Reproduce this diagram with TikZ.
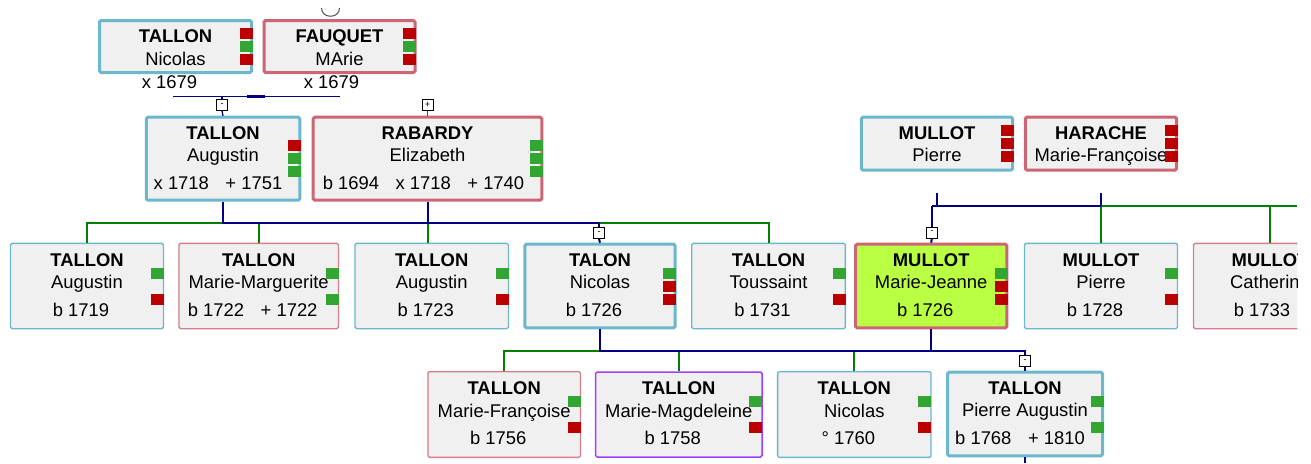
\documentclass[tikz,border=0pt]{standalone}
\usepackage{fontspec}
\setmainfont{Liberation Sans}
\usetikzlibrary{positioning}

\definecolor{malecol}{HTML}{6BB7CB}
\definecolor{femcol}{HTML}{CC6677}
\definecolor{othercol}{HTML}{A040FF}
\definecolor{boxfill}{HTML}{F0F0F0}
\definecolor{selfill}{HTML}{BBFF44}
\definecolor{flaggreen}{HTML}{33A533}
\definecolor{flagred}{HTML}{BB0000}
\definecolor{linkblue}{HTML}{000080}
\definecolor{linkgreen}{HTML}{008000}

\newcommand{\boxfont}{\fontsize{18.4}{22}\selectfont}
\newcommand{\dgap}{\hspace{0.9em}}
% surname and first name of a box
\newcommand{\tags}[3]{%
  \node[sur] (#1-s) at (#1.north) {#2};
  \node[fn] (#1-f) at (#1.north) {#3};}
% small coloured flags on the right side of a box
\newcommand{\flags}[2]{%
  \foreach \k/\c in {#2}
    {\fill[\c] ([xshift=-13.5pt,yshift={(18.5-13*(\k-1))*1pt}]#1.east) rectangle ++(13,11);}}

\begin{document}
\begin{tikzpicture}[x=1pt,y=-1pt,
        person/.style={draw, fill=boxfill, inner sep=0pt, rounded corners=1.5pt},
        male/.style={person, draw=malecol, line width=1.3pt, minimum height=85.3pt},
        female/.style={person, draw=femcol!85, line width=1.3pt, minimum height=85.3pt},
        other/.style={person, draw=othercol, line width=1.5pt, minimum height=85pt},
        thick male/.style={person, draw=malecol, line width=3pt, minimum height=83.6pt},
        thick female/.style={person, draw=femcol, line width=3pt, minimum height=83.6pt},
        sur/.style={anchor=base, yshift=-23.5pt, text=black, font=\boxfont\bfseries},
        fn/.style={anchor=base, yshift=-46pt, text=black, font=\boxfont},
        dt/.style={anchor=base, xshift=-6pt, yshift=-73.5pt, text=black, font=\boxfont},
        sqg/.style={fill=flaggreen},
        sqr/.style={fill=flagred},
        bl/.style={draw=linkblue, line width=2pt},
        gr/.style={draw=linkgreen, line width=2pt},
        minibox/.style={draw=black, fill=white, line width=1pt, minimum size=11pt,
            inner sep=0pt, font=\fontsize{9}{9}\selectfont},
    ]
    \useasboundingbox (0,0) rectangle (1311,463);
    \begin{scope}
    \clip (0,0) rectangle (1297.3,463);

    % grand parents
    \draw[black!70, line width=1pt] (321.5,8) .. controls (321.5,19) and (339.5,19) .. (339.5,8);
    \node[thick male, minimum width=152pt, minimum height=52pt] (nic) at (175.5,46.5) {};
    \node[thick female, minimum width=151pt, minimum height=52pt] (fau) at (339.5,46.5) {};
    \tags{nic}{TALLON}{Nicolas}
    \tags{fau}{FAUQUET}{MArie}
    \node[dt, yshift=4pt] (nic-d) at (nic.north) {x 1679};
    \node[dt, xshift=-2pt, yshift=4pt] (fau-d) at (fau.north) {x 1679};
    \flags{nic}{1/sqr,2/sqg,3/sqr}
    \flags{fau}{1/sqr,2/sqg,3/sqr}

    % parents
    \node[thick male, minimum width=153.5pt, minimum height=83pt] (aug) at (223,158.7) {};
    \node[thick female, minimum width=228.6pt, minimum height=83pt] (rab) at (427.5,158.7) {};
    \node[thick male, minimum width=151.3pt, minimum height=53pt] (mp) at (937,143.7) {};
    \node[thick female, minimum width=151.3pt, minimum height=53pt] (har) at (1101,143.7) {};
    \tags{aug}{TALLON}{Augustin}
    \node[dt, xshift=1pt] (aug-d) at (aug.north) {x 1718\dgap+ 1751};
    \tags{rab}{RABARDY}{Elizabeth}
    \node[dt, xshift=2pt] (rab-d) at (rab.north) {b 1694\dgap x 1718\dgap+ 1740};
    \tags{mp}{MULLOT}{Pierre}
    \tags{har}{HARACHE}{Marie-Françoise}
    \flags{aug}{1/sqr,2/sqg,3/sqg}
    \flags{rab}{1/sqg,2/sqg,3/sqg}
    \flags{mp}{1/sqr,2/sqr,3/sqr}
    \flags{har}{1/sqr,2/sqr,3/sqr}

    % children
    \node[male, minimum width=153pt] (a19) at (87,286) {};
    \node[female, minimum width=159.4pt] (mm) at (258.7,286) {};
    \node[male, minimum width=153.4pt] (a23) at (431.7,286) {};
    \node[thick male, minimum width=150.4pt] (nc) at (600,286) {};
    \node[male, minimum width=153.7pt] (tou) at (768.5,286) {};
    \node[thick female, fill=selfill, minimum width=151.3pt] (mj) at (931.2,286) {};
    \node[male, minimum width=153pt] (p28) at (1101,286) {};
    \node[female, minimum width=153pt] (cat) at (1270,286) {};
    \tags{a19}{TALLON}{Augustin}
    \node[dt] (a19-d) at (a19.north) {b 1719};
    \tags{mm}{TALLON}{Marie-Marguerite}
    \node[dt] (mm-d) at (mm.north) {b 1722\dgap+ 1722};
    \tags{a23}{TALLON}{Augustin}
    \node[dt] (a23-d) at (a23.north) {b 1723};
    \tags{nc}{TALON}{Nicolas}
    \node[dt] (nc-d) at (nc.north) {b 1726};
    \tags{tou}{TALLON}{Toussaint}
    \node[dt] (tou-d) at (tou.north) {b 1731};
    \tags{mj}{MULLOT}{Marie-Jeanne}
    \node[dt] (mj-d) at (mj.north) {b 1726};
    \tags{p28}{MULLOT}{Pierre}
    \node[dt] (p28-d) at (p28.north) {b 1728};
    \tags{cat}{MULLOT}{Catherine}
    \node[dt, xshift=-2pt] (cat-d) at (cat.north) {b 1733};
    \flags{a19}{1/sqg,3/sqr}
    \flags{mm}{1/sqg,3/sqg}
    \flags{a23}{1/sqg,3/sqr}
    \flags{nc}{1/sqg,2/sqr,3/sqr}
    \flags{tou}{1/sqg,3/sqr}
    \flags{mj}{1/sqg,2/sqr,3/sqr}
    \flags{p28}{1/sqg,3/sqr}

    % grand children
    \node[female, minimum width=152.4pt, minimum height=85.7pt] (mf) at (504.2,414.5) {};
    \node[other, minimum width=166.4pt] (mmag) at (678.8,414.5) {};
    \node[male, minimum width=153.4pt, minimum height=85.7pt] (n60) at (854.3,414.5) {};
    \node[thick male, minimum width=155pt] (pa) at (1025,414) {};
    \tags{mf}{TALLON}{Marie-Françoise}
    \node[dt] (mf-d) at (mf.north) {b 1756};
    \tags{mmag}{TALLON}{Marie-Magdeleine}
    \node[dt] (mmag-d) at (mmag.north) {b 1758};
    \tags{n60}{TALLON}{Nicolas}
    \node[dt] (n60-d) at (n60.north) {° 1760};
    \tags{pa}{TALLON}{Pierre Augustin}
    \node[dt, xshift=1pt] (pa-d) at (pa.north) {b 1768\dgap+ 1810};
    \flags{mf}{1/sqg,3/sqr}
    \flags{mmag}{1/sqg,3/sqr}
    \flags{n60}{1/sqg,3/sqr}
    \flags{pa}{1/sqg,3/sqg}

    % expand boxes
    \node[minibox] (mb1) at (222,105) {-};
    \node[minibox] (pb1) at (427.5,105) {+};
    \node[minibox] (mb2) at (599,232.8) {-};
    \node[minibox] (mb3) at (931.8,232.5) {-};
    \node[minibox] (mb4) at (1025,361) {-};

    \coordinate (bar1) at (0,96.7);
    \coordinate (bar2) at (0,223);
    \coordinate (bar3) at (0,206);
    \coordinate (bar4) at (0,350.7);
    \coordinate (m1) at (256,96.7);
    \coordinate (edge) at (1297.3,206);
    \coordinate (bottom) at (0,463);

    % links
    \draw[bl, line width=1.3pt] ([xshift=-2.5pt]nic.south |- bar1) -- (fau.south |- bar1);
    \draw[bl, line width=3pt] ([xshift=-9pt]m1) -- ([xshift=9pt]m1);
    \draw[bl, line width=1.3pt] (mb1.north |- bar1) -- (mb1.north);
    \draw[bl, line width=1.3pt] (mb1.south) -- (aug.north);
    \draw[gr, line width=1.3pt] (pb1.south) -- (rab.north);

    \draw[gr] (aug.south |- bar2) -| (a19.north);
    \draw[gr] (mm.north |- bar2) -- (mm.north);
    \draw[gr] (rab.south |- bar2) -- (rab.south |- a23.north);
    \draw[gr] (mb2.north |- bar2) -| (tou.north);
    \draw[bl] (aug.south) |- (mb2.north |- bar2) -- (mb2.north);
    \draw[bl] (rab.south) -- (rab.south |- bar2);
    \draw[bl] (mb2.south) -- (nc.north);

    \draw[gr] (har.south |- bar3) -- (edge);
    \draw[gr] (p28.north |- bar3) -- (p28.north);
    \draw[gr] (cat.north |- bar3) -- (cat.north);
    \draw[bl, line width=2.5pt] ([yshift=-21pt]mp.south) -- (mp.south |- bar3);
    \draw[bl, line width=2.5pt] ([yshift=-21pt]har.south) -- (har.south |- bar3);
    \draw[bl] (mb3.north |- bar3) -- (har.south |- bar3);
    \draw[bl] (mb3.north |- bar3) -- (mb3.north);
    \draw[bl] (mb3.south) -- (mj.north);

    \draw[gr] (nc.south |- bar4) -| (mf.north);
    \draw[gr] (mmag.north |- bar4) -- (mmag.north);
    \draw[gr] (n60.north |- bar4) -- (n60.north);
    \draw[bl] (nc.south) |- (mb4.north |- bar4) -- (mb4.north);
    \draw[bl] (mj.south) -- (mj.south |- bar4);
    \draw[bl] (mb4.south) -- (pa.north);
    \draw[bl] (pa.south) -- (pa.south |- bottom);
    \end{scope}
\end{tikzpicture}
\end{document}
